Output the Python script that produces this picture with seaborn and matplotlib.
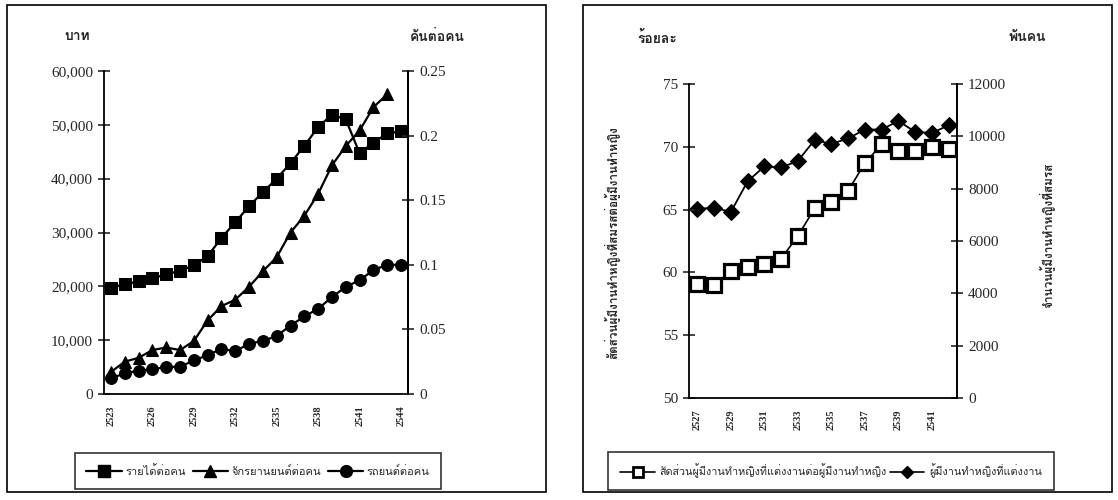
import numpy as np
import pandas as pd
import matplotlib
matplotlib.use("Agg")
import matplotlib.pyplot as plt
import matplotlib.font_manager as fm
from matplotlib.ft2font import FT2Font
from matplotlib.ticker import FuncFormatter, FixedLocator
from matplotlib.lines import Line2D
from matplotlib.patches import Rectangle
import seaborn as sns

# ---------------- data ----------------
years_left = [2523, 2524, 2525, 2526, 2527, 2528, 2529, 2530, 2531, 2532, 2533,
              2534, 2535, 2536, 2537, 2538, 2539, 2540, 2541, 2542, 2543, 2544]
income_per_person = [19700, 20400, 20900, 21500, 22200, 22900, 23900, 25600, 29000, 31900, 34900,
                     37500, 40000, 42900, 46100, 49600, 51900, 51000, 44700, 46700, 48400, 48800]
years_moto = years_left[:21]
moto_per_person = [0.017, 0.025, 0.028, 0.034, 0.036, 0.034, 0.041, 0.057, 0.068, 0.073, 0.083,
                   0.095, 0.106, 0.125, 0.138, 0.155, 0.177, 0.192, 0.204, 0.222, 0.232]
car_per_person = [0.012, 0.016, 0.018, 0.019, 0.021, 0.021, 0.026, 0.030, 0.035, 0.033, 0.039,
                  0.041, 0.045, 0.053, 0.060, 0.066, 0.075, 0.083, 0.088, 0.096, 0.100, 0.100]
left_tick_years = [2523, 2526, 2529, 2532, 2535, 2538, 2541, 2544]

years_right = [2527, 2528, 2529, 2530, 2531, 2532, 2533, 2534, 2535, 2536, 2537,
               2538, 2539, 2540, 2541, 2542]
married_share = [59.1, 59.0, 60.1, 60.4, 60.7, 61.1, 62.9, 65.1, 65.6, 66.5, 68.7,
                 70.2, 69.7, 69.7, 70.0, 69.8]
married_workers = [7230, 7270, 7110, 8280, 8850, 8810, 9060, 9860, 9710, 9920, 10260,
                   10260, 10590, 10170, 10130, 10420]
right_tick_years = [2527, 2529, 2531, 2533, 2535, 2537, 2539, 2541]

lbl_income = "รายได้ต่อคน"
lbl_moto = "จักรยานยนต์ต่อคน"
lbl_car = "รถยนต์ต่อคน"
lbl_share = "สัดส่วนผู้มีงานทำหญิงที่แต่งงานต่อผู้มีงานทำหญิง"
lbl_workers = "ผู้มีงานทำหญิงที่แต่งงาน"
ylab_right_left = "สัดส่วนผู้มีงานทำหญิงที่สมรสต่อผู้มีงานทำหญิง"
ylab_right_right = "จำนวนผู้มีงานทำหญิงที่สมรส"
unit_baht = "บาท"
unit_veh = "คันต่อคน"
unit_pct = "ร้อยละ"
unit_thou = "พันคน"

# ---------------- fonts ----------------
sns.set_style("white")
thai_fonts = []
for f in fm.fontManager.ttflist:
    try:
        cmap = FT2Font(f.fname).get_charmap()
        if 0x0E01 in cmap and 0x0E32 in cmap and 0x0E49 in cmap:
            if f.name not in thai_fonts:
                thai_fonts.append(f.name)
    except Exception:
        pass
fam = thai_fonts[:1] + ["DejaVu Sans"]
plt.rcParams["font.family"] = fam
plt.rcParams["axes.unicode_minus"] = False
NUMFONT = "Liberation Serif"

fig = plt.figure(figsize=(11.18, 5.0), dpi=100)
W, H = 1118, 500

def fx(px):
    return px / W

def fy(py):
    return 1 - py / H

# panel frames
for x0, x1 in [(7, 546), (583, 1112)]:
    fig.patches.append(Rectangle((fx(x0), fy(492)), fx(x1) - fx(x0), fy(5) - fy(492),
                                 transform=fig.transFigure, fill=False, ec="black", lw=1.2))

def style_axis(ax, tick_years, years):
    ax.spines["top"].set_visible(False)
    for s in ["left", "bottom", "right"]:
        ax.spines[s].set_color("black")
        ax.spines[s].set_linewidth(1.3)
    ax.set_xlim(years[0] - 0.5, years[-1] + 0.5)
    ax.xaxis.set_major_locator(FixedLocator(tick_years))
    ax.set_xticklabels([str(y) for y in tick_years], rotation=90, fontsize=7.5,
                       fontweight="bold", family=NUMFONT)
    ax.tick_params(axis="x", which="major", length=0, pad=8)
    ax.xaxis.set_minor_locator(FixedLocator(np.arange(years[0] - 0.5, years[-1] + 1.0, 1.0)))
    ax.tick_params(axis="x", which="minor", direction="inout", length=7, width=1)
    ax.tick_params(axis="y", direction="inout", length=9, width=1.2, labelsize=11)
    for t in ax.get_yticklabels():
        t.set_family(NUMFONT)
    ax.set_xlabel("")
    ax.set_ylabel("")

# ---------------- left chart ----------------
axL = fig.add_axes([fx(104), fy(394), fx(408) - fx(104), fy(71) - fy(394)])
axL.set_facecolor("none")
dfL = pd.DataFrame({"year": years_left, "income": income_per_person})
sns.lineplot(data=dfL, x="year", y="income", ax=axL, color="black", marker="s",
             markersize=8.5, markeredgecolor="black", lw=1.6)
axL.set_ylim(0, 60000)
axL.set_yticks([0, 10000, 20000, 30000, 40000, 50000, 60000])
axL.yaxis.set_major_formatter(FuncFormatter(lambda v, p: f"{int(v):,}"))
style_axis(axL, left_tick_years, years_left)

axL2 = axL.twinx()
dfM = pd.DataFrame({"year": years_moto, "moto": moto_per_person})
dfC = pd.DataFrame({"year": years_left, "car": car_per_person})
sns.lineplot(data=dfM, x="year", y="moto", ax=axL2, color="black", marker="^",
             markersize=8.5, markeredgecolor="black", lw=1.6)
sns.lineplot(data=dfC, x="year", y="car", ax=axL2, color="black", marker="o",
             markersize=8.5, markeredgecolor="black", lw=1.6)
axL2.set_ylim(0, 0.25)
axL2.set_yticks([0, 0.05, 0.1, 0.15, 0.2, 0.25])
axL2.yaxis.set_major_formatter(FuncFormatter(lambda v, p: f"{v:g}"))
style_axis(axL2, left_tick_years, years_left)
axL2.spines["left"].set_visible(False)
axL2.spines["bottom"].set_visible(False)
axL2.tick_params(axis="x", which="both", length=0)

fig.text(fx(77), fy(37), unit_baht, ha="center", va="center", fontsize=10, fontweight="bold")
fig.text(fx(437), fy(37), unit_veh, ha="center", va="center", fontsize=10, fontweight="bold")

hL = [Line2D([], [], color="black", marker="s", markersize=8.5, lw=1.6),
      Line2D([], [], color="black", marker="^", markersize=8.5, lw=1.6),
      Line2D([], [], color="black", marker="o", markersize=8.5, lw=1.6)]
legL = fig.legend(hL, [lbl_income, lbl_moto, lbl_car], loc="center",
                  bbox_to_anchor=(fx(258), fy(471)), ncol=3, fontsize=8, frameon=True,
                  fancybox=False, edgecolor="black", handlelength=3.2, columnspacing=0.6,
                  handletextpad=0.3, borderpad=1.05)
legL.get_frame().set_linewidth(1.2)

# ---------------- right chart ----------------
axR = fig.add_axes([fx(689), fy(398), fx(957) - fx(689), fy(84) - fy(398)])
axR.set_facecolor("none")
dfS = pd.DataFrame({"year": years_right, "share": married_share})
sns.lineplot(data=dfS, x="year", y="share", ax=axR, color="black", marker="s",
             markersize=9.5, markerfacecolor="white", markeredgecolor="black",
             markeredgewidth=2.3, lw=1.2, zorder=3)
axR.set_ylim(50, 75)
axR.set_yticks([50, 55, 60, 65, 70, 75])
style_axis(axR, right_tick_years, years_right)

axR2 = axR.twinx()
dfW = pd.DataFrame({"year": years_right, "workers": married_workers})
sns.lineplot(data=dfW, x="year", y="workers", ax=axR2, color="black", marker="D",
             markersize=8, markeredgecolor="black", lw=1.3)
axR2.set_ylim(0, 12000)
axR2.set_yticks([0, 2000, 4000, 6000, 8000, 10000, 12000])
style_axis(axR2, right_tick_years, years_right)
axR2.spines["left"].set_visible(False)
axR2.spines["bottom"].set_visible(False)
axR2.tick_params(axis="x", which="both", length=0)
axR.set_zorder(axR2.get_zorder() + 1)

fig.text(fx(657), fy(38), unit_pct, ha="center", va="center", fontsize=10, fontweight="bold")
fig.text(fx(1027), fy(38), unit_thou, ha="center", va="center", fontsize=10, fontweight="bold")
fig.text(fx(612), fy(243), ylab_right_left, ha="center", va="center", rotation=90,
         fontsize=8.5, fontweight="bold")
fig.text(fx(1047), fy(235), ylab_right_right, ha="center", va="center", rotation=90,
         fontsize=8.5, fontweight="bold")

hR = [Line2D([], [], color="black", marker="s", markersize=7, markerfacecolor="white",
             markeredgewidth=2, lw=1.2),
      Line2D([], [], color="black", marker="D", markersize=6, lw=1.2)]
legR = fig.legend(hR, [lbl_share, lbl_workers], loc="center",
                  bbox_to_anchor=(fx(831), fy(471)), ncol=2, fontsize=7.8, frameon=True,
                  fancybox=False, edgecolor="black", handlelength=3.2, columnspacing=0.3,
                  handletextpad=0.4, borderpad=1.1)
legR.get_frame().set_linewidth(1.2)

fig.savefig("out.png", dpi=100)
